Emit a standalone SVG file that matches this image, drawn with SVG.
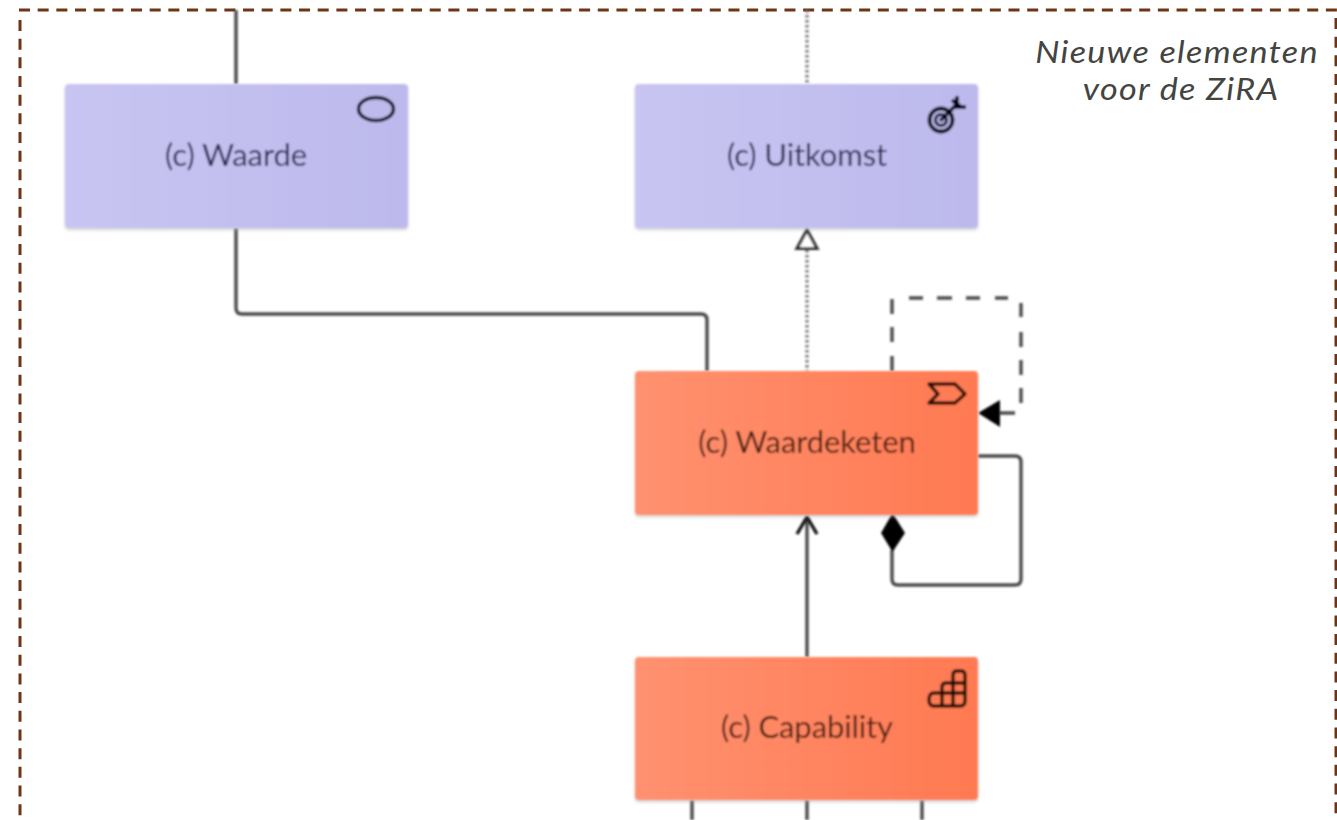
<svg xmlns="http://www.w3.org/2000/svg" width="1337" height="820" viewBox="0 0 1337 820">
<style>
.lbl{font-family:"Lato","Liberation Sans",sans-serif;font-size:31px;letter-spacing:-.1px;text-anchor:middle}
.v{fill:#2c2b55}.o{fill:#4a1c0e}
.ann{font-family:"Lato","Open Sans",sans-serif;font-style:italic;font-size:30.500px;letter-spacing:1.170px;fill:#444441;text-anchor:middle}
.c{fill:none;stroke:#4a4a4a;stroke-width:3.400;stroke-linejoin:round}
.ic{fill:none;stroke:#000014;stroke-width:3.400}
.io{fill:none;stroke:#2a0800;stroke-width:3.400;stroke-linejoin:round;stroke-linecap:round}
.bd{fill:none;stroke:#6f3414;stroke-width:3;stroke-dasharray:11 7.670}
</style>
<defs>
<linearGradient id="gv" x1="0" y1="0" x2="1" y2="0"><stop offset="0" stop-color="#c8c5f2"/><stop offset="1" stop-color="#bdb9ec"/></linearGradient>
<linearGradient id="go" x1="0" y1="0" x2="1" y2="0"><stop offset="0" stop-color="#ff9170"/><stop offset="1" stop-color="#ff7a52"/></linearGradient>
<filter id="s" x="-5%" y="-5%" width="110%" height="115%"><feGaussianBlur stdDeviation="1.800"/></filter>
<filter id="b" x="-5%" y="-5%" width="110%" height="110%"><feGaussianBlur stdDeviation="0.800"/></filter>
</defs>
<rect width="1337" height="820" fill="#fff"/>
<path class="bd" d="M19 10H1337"/>
<path class="bd" d="M20 20V820"/>
<path class="bd" d="M1336 18V820"/>
<g id="connectors" filter="url(#b)">
<path class="c" d="M236 10V84M236 228V308Q236 314 242 314H701Q707 314 707 320V371"/>
<path class="c" d="M807 10V84M807 250V371" stroke-dasharray="2.500 2.500" style="stroke:#777"/>
<path d="M807 230L817 248.500H797Z" fill="#fff" stroke="#333" stroke-width="3.200"/>
<path class="c" d="M892 371V356M892 342V327M892 314V299M909 298H923M937 298H952M966 298H980M995 298H1008M1021 303V317M1021 332V347M1021 360V375M1021 388V403M1015 413H1000"/>
<path d="M978 413L1000 400V427Z" fill="#000"/>
<path class="c" d="M978 456H1015Q1021 456 1021 462V579Q1021 585 1015 585H898Q892 585 892 579V550"/>
<path d="M892.500 513L905 533L892.500 552L881 533Z" fill="#000"/>
<path class="c" d="M807 657V517"/>
<path class="c" d="M797 534L807 517L817 534" style="stroke:#111;stroke-width:3.400"/>
<path class="c" d="M692 800V820M807 800V820M922 800V820"/>
</g>
<g id="waarde" filter="url(#b)">
<rect x="65" y="86" width="343" height="144" rx="4" fill="#aaa" opacity=".55" filter="url(#s)"/>
<rect x="65" y="84" width="343" height="144" rx="4" fill="url(#gv)"/>
<text class="lbl v" x="236" y="166">(c) Waarde</text>
<ellipse class="ic" cx="376" cy="109" rx="17.500" ry="11.500"/>
</g>
<g id="uitkomst" filter="url(#b)">
<rect x="635" y="86" width="343" height="144" rx="4" fill="#aaa" opacity=".55" filter="url(#s)"/>
<rect x="635" y="84" width="343" height="144" rx="4" fill="url(#gv)"/>
<text class="lbl v" x="807" y="166">(c) Uitkomst</text>
<circle class="ic" cx="941" cy="120" r="11.500" style="stroke-width:3.800"/>
<circle class="ic" cx="941" cy="120" r="5.500" style="stroke-width:3"/>
<circle cx="941" cy="120" r="1.600" fill="#000014"/>
<path class="ic" d="M941 120L956 105M957 96V107H966M952 100L961 107" style="stroke-width:3.800"/>
</g>
<g id="waardeketen" filter="url(#b)">
<rect x="635" y="373" width="343" height="144" rx="4" fill="#aaa" opacity=".55" filter="url(#s)"/>
<rect x="635" y="371" width="343" height="144" rx="4" fill="url(#go)"/>
<text class="lbl o" x="807" y="453">(c) Waardeketen</text>
<path class="io" d="M929 384H955L965 394L955 403H929L938 394Z"/>
</g>
<g id="capability" filter="url(#b)">
<rect x="635" y="659" width="343" height="143" rx="4" fill="#aaa" opacity=".55" filter="url(#s)"/>
<rect x="635" y="657" width="343" height="143" rx="4" fill="url(#go)"/>
<text class="lbl o" x="807" y="738">(c) Capability</text>
<path class="io" d="M934 693H942V687Q942 683 946 683H953V675Q953 671 957 671H961Q965 671 965 675V701Q965 706 960 706H934Q929 706 929 700Q929 693 934 693ZM942 693H965M953 683H965M942 693V706M953 683V706"/>
</g>
<g id="note">
<text class="ann" transform="translate(1177 63) scale(1.12 1)">Nieuwe elementen</text>
<text class="ann" transform="translate(1181 100) scale(1.12 1)">voor de ZiRA</text>
</g>
</svg>
